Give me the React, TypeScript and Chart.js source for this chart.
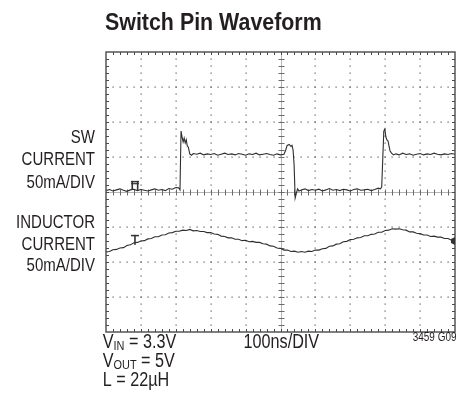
import React, { useEffect, useRef } from "react";
import { Chart, registerables } from "chart.js";
Chart.register(...registerables);

// ---- text ----
const TITLE = "Switch Pin Waveform";
const swLabel = ["SW", "CURRENT", "50mA/DIV"];
const indLabel = ["INDUCTOR", "CURRENT", "50mA/DIV"];
const timebase = "100ns/DIV";
const figId = "3459 G09";
const conditionMain = ["V", "V", "L"];
const conditionSub = ["IN", "OUT", ""];
const conditionRest = [" = 3.3V", " = 5V", " = 22µH"];

// ---- graticule (divisions) ----
const xDivs = 10;
const yDivs = 8;
const minorPerDiv = 5;

// ---- SW current trace (time in divisions, value in divisions) ----
const swTime = [
  0.0, 0.1, 0.2, 0.3, 0.4, 0.5, 0.6, 0.7, 0.8, 0.9, 1.0, 1.1, 1.2, 1.3, 1.4, 1.5, 1.6, 1.7, 1.8, 1.9, 2.0,
  2.08, 2.12, 2.15, 2.18, 2.21, 2.24, 2.27, 2.3, 2.33, 2.36, 2.4, 2.45, 2.5,
  2.6, 2.7, 2.8, 2.9, 3.0, 3.1, 3.2, 3.3, 3.4, 3.5, 3.6, 3.7, 3.8, 3.9, 4.0, 4.1, 4.2, 4.3, 4.4, 4.5, 4.6, 4.7, 4.8, 4.9, 5.0, 5.1,
  5.15, 5.19, 5.25, 5.3, 5.33, 5.36, 5.39, 5.42, 5.45, 5.49, 5.53,
  5.6, 5.7, 5.8, 5.9, 6.0, 6.1, 6.2, 6.3, 6.4, 6.5, 6.6, 6.7, 6.8, 6.9, 7.0, 7.1, 7.2, 7.3, 7.4, 7.5, 7.6, 7.7, 7.8,
  7.86, 7.9, 7.93, 7.96, 7.99, 8.02, 8.05, 8.08, 8.11, 8.14, 8.18, 8.24,
  8.3, 8.4, 8.5, 8.6, 8.7, 8.8, 8.9, 9.0, 9.1, 9.2, 9.3, 9.4, 9.5, 9.6, 9.7, 9.8, 9.9, 10.0,
];
const swCurrent = [
  4.04, 4.07, 4.03, 4.06, 4.09, 4.05, 4.02, 4.06, 4.08, 4.04, 4.07, 4.05, 4.03, 4.06, 4.09, 4.05, 4.07, 4.04, 4.1, 4.08, 4.13,
  4.12, 4.06, 5.74, 5.57, 5.43, 5.54, 5.4, 5.49, 5.31, 5.28, 5.09, 5.05, 5.1,
  5.08, 5.11, 5.06, 5.09, 5.07, 5.1, 5.05, 5.08, 5.11, 5.07, 5.09, 5.06, 5.1, 5.08, 5.05, 5.09, 5.07, 5.11, 5.06, 5.08, 5.1, 5.07, 5.05, 5.09, 5.06, 5.08,
  5.2, 5.33, 5.36, 5.3, 5.33, 5.2, 4.77, 3.83, 3.95, 4.09, 4.03,
  4.06, 4.09, 4.04, 4.07, 4.05, 4.08, 4.03, 4.06, 4.1, 4.05, 4.07, 4.04, 4.08, 4.06, 4.03, 4.07, 4.09, 4.05, 4.06, 4.08, 4.04, 4.07, 4.11,
  4.09, 4.14, 4.94, 5.74, 5.8, 5.57, 5.49, 5.46, 5.31, 5.17, 5.11, 5.06,
  5.09, 5.06, 5.11, 5.07, 5.09, 5.05, 5.08, 5.1, 5.06, 5.09, 5.07, 5.11, 5.08, 5.06, 5.09, 5.07, 5.1, 5.08,
];

// ---- inductor current trace ----
const indTime = [
  0.0, 0.1, 0.2, 0.3, 0.4, 0.5, 0.6, 0.7, 0.8, 0.9, 1.0, 1.1, 1.2, 1.3, 1.4, 1.5, 1.6, 1.7, 1.8, 1.9,
  2.0, 2.1, 2.2, 2.3, 2.4, 2.5, 2.6, 2.7, 2.8, 2.9, 3.0, 3.1, 3.2, 3.3, 3.4, 3.5, 3.6, 3.7, 3.8, 3.9,
  4.0, 4.1, 4.2, 4.3, 4.4, 4.5, 4.6, 4.7, 4.8, 4.9, 5.0, 5.1, 5.2, 5.3, 5.4, 5.5, 5.6, 5.7, 5.8, 5.9,
  6.0, 6.1, 6.2, 6.3, 6.4, 6.5, 6.6, 6.7, 6.8, 6.9, 7.0, 7.1, 7.2, 7.3, 7.4, 7.5, 7.6, 7.7, 7.8, 7.9,
  8.0, 8.1, 8.2, 8.3, 8.4, 8.5, 8.6, 8.7, 8.8, 8.9, 9.0, 9.1, 9.2, 9.3, 9.4, 9.5, 9.6, 9.7, 9.8, 9.9, 10.0,
];
const indCurrent = [
  2.29, 2.3, 2.35, 2.36, 2.4, 2.41, 2.47, 2.49, 2.55, 2.56, 2.6, 2.61, 2.66, 2.67, 2.72, 2.72, 2.77, 2.78, 2.83, 2.84,
  2.88, 2.88, 2.91, 2.9, 2.93, 2.89, 2.9, 2.87, 2.87, 2.84, 2.84, 2.8, 2.79, 2.74, 2.73, 2.69, 2.69, 2.65, 2.65, 2.61,
  2.62, 2.58, 2.59, 2.56, 2.56, 2.52, 2.51, 2.46, 2.45, 2.4, 2.39, 2.34, 2.34, 2.3, 2.31, 2.28, 2.3, 2.28, 2.31, 2.3,
  2.34, 2.34, 2.38, 2.39, 2.45, 2.46, 2.51, 2.52, 2.58, 2.59, 2.64, 2.65, 2.69, 2.7, 2.75, 2.75, 2.79, 2.8, 2.85, 2.85,
  2.9, 2.91, 2.95, 2.94, 2.95, 2.92, 2.91, 2.86, 2.86, 2.82, 2.81, 2.77, 2.77, 2.73, 2.74, 2.71, 2.71, 2.67, 2.67, 2.62, 2.6,
];

// ---- trace markers (divisions) ----
const ch1Marker = [0.83, 4.06];
const ch2Marker = [0.83, 2.49];
const refMarker = [10, 2.6];

const FONT = '"Liberation Sans", Arial, Helvetica, sans-serif';
const TEXT_COLOR = "#231f20";

function drawText(
  ctx: CanvasRenderingContext2D,
  s: string,
  x: number,
  y: number,
  size: number,
  sx: number,
  align: "left" | "right" | "center" = "left",
  bold = false
): number {
  ctx.save();
  ctx.font = `${bold ? "bold " : ""}${size}px ${FONT}`;
  ctx.textBaseline = "alphabetic";
  ctx.textAlign = "left";
  ctx.fillStyle = TEXT_COLOR;
  const w = ctx.measureText(s).width * sx;
  const x0 = align === "right" ? x - w : align === "center" ? x - w / 2 : x;
  ctx.translate(x0, y);
  ctx.scale(sx, 1);
  ctx.fillText(s, 0, 0);
  ctx.restore();
  return w;
}

const scopePlugin = {
  id: "scope",
  beforeDatasetsDraw(chart: any) {
    const { ctx, scales } = chart;
    const x = scales.x;
    const y = scales.y;
    ctx.save();
    // dotted graticule
    ctx.fillStyle = "#5a5a5a";
    for (let i = 1; i < xDivs; i++) {
      if (i === xDivs / 2) continue;
      const px = Math.round(x.getPixelForValue(i)) - 0.5;
      for (let j = 1; j < yDivs * minorPerDiv; j++) {
        const py = Math.round(y.getPixelForValue(j / minorPerDiv)) - 0.5;
        ctx.fillRect(px, py, 1.2, 1.2);
      }
    }
    for (let i = 1; i < yDivs; i++) {
      if (i === yDivs / 2) continue;
      const py = Math.round(y.getPixelForValue(i)) - 0.5;
      for (let j = 1; j < xDivs * minorPerDiv; j++) {
        const px = Math.round(x.getPixelForValue(j / minorPerDiv)) - 0.5;
        ctx.fillRect(px, py, 1.2, 1.2);
      }
    }
    // center lines
    const cx = Math.round(x.getPixelForValue(xDivs / 2)) + 0.5;
    const cy = Math.round(y.getPixelForValue(yDivs / 2)) + 0.5;
    ctx.strokeStyle = "#b4b4b4";
    ctx.lineWidth = 1;
    ctx.beginPath();
    ctx.moveTo(cx, y.getPixelForValue(0));
    ctx.lineTo(cx, y.getPixelForValue(yDivs));
    ctx.moveTo(x.getPixelForValue(0), cy);
    ctx.lineTo(x.getPixelForValue(xDivs), cy);
    ctx.stroke();
    ctx.strokeStyle = "#6a6a6a";
    ctx.beginPath();
    for (let j = 1; j < yDivs * minorPerDiv; j++) {
      const py = Math.round(y.getPixelForValue(j / minorPerDiv)) + 0.5;
      ctx.moveTo(cx - 3, py);
      ctx.lineTo(cx + 3, py);
    }
    for (let j = 1; j < xDivs * minorPerDiv; j++) {
      const px = Math.round(x.getPixelForValue(j / minorPerDiv)) + 0.5;
      ctx.moveTo(px, cy - 3);
      ctx.lineTo(px, cy + 3);
    }
    ctx.stroke();
    ctx.restore();
  },
  afterDatasetsDraw(chart: any) {
    const { ctx, scales } = chart;
    const x = scales.x;
    const y = scales.y;
    const L = x.getPixelForValue(0);
    const R = x.getPixelForValue(xDivs);
    const T = y.getPixelForValue(yDivs);
    const B = y.getPixelForValue(0);
    ctx.save();
    // frame
    ctx.strokeStyle = "#4a4a4a";
    ctx.lineWidth = 1.4;
    ctx.strokeRect(L, T, R - L, B - T);
    ctx.lineWidth = 1;
    ctx.beginPath();
    for (let j = 1; j < xDivs * minorPerDiv; j++) {
      const px = Math.round(x.getPixelForValue(j / minorPerDiv)) + 0.5;
      ctx.moveTo(px, T);
      ctx.lineTo(px, T + 3);
      ctx.moveTo(px, B);
      ctx.lineTo(px, B - 3);
    }
    for (let j = 1; j < yDivs * minorPerDiv; j++) {
      const py = Math.round(y.getPixelForValue(j / minorPerDiv)) + 0.5;
      ctx.moveTo(L, py);
      ctx.lineTo(L + 3, py);
      ctx.moveTo(R, py);
      ctx.lineTo(R - 3, py);
    }
    ctx.stroke();

    // channel 1 marker
    ctx.fillStyle = "#333";
    {
      const mx = x.getPixelForValue(ch1Marker[0]);
      const my = y.getPixelForValue(ch1Marker[1]);
      ctx.fillRect(mx - 4, my - 9, 8, 1.5);
      ctx.fillRect(mx - 4, my - 6.8, 8, 1.2);
      ctx.fillRect(mx - 3.5, my - 9, 1.6, 9);
      ctx.fillRect(mx + 1.9, my - 9, 1.6, 9);
    }
    // channel 2 marker
    {
      const mx = x.getPixelForValue(ch2Marker[0]);
      const my = y.getPixelForValue(ch2Marker[1]);
      ctx.fillRect(mx - 4, my - 10, 8, 1.5);
      ctx.fillRect(mx - 0.8, my - 10, 1.6, 10);
    }
    // reference marker
    {
      const mx = x.getPixelForValue(refMarker[0]);
      const my = y.getPixelForValue(refMarker[1]);
      ctx.beginPath();
      ctx.moveTo(mx, my - 4);
      ctx.lineTo(mx, my + 4);
      ctx.lineTo(mx - 4, my + 2);
      ctx.lineTo(mx - 4, my - 2);
      ctx.closePath();
      ctx.fill();
    }
    ctx.restore();

    // ---- text ----
    drawText(ctx, TITLE, 105, 30, 23, 0.93, "left", true);
    const lx = 95;
    swLabel.forEach((s, i) => drawText(ctx, s, lx, [143, 165, 188][i], 19, 0.79, "right"));
    indLabel.forEach((s, i) => drawText(ctx, s, lx, [228, 249.5, 271][i], 19, 0.79, "right"));
    drawText(ctx, timebase, 243.5, 347.5, 20, 0.81, "left");
    drawText(ctx, figId, 456.5, 340.5, 12, 0.83, "right");
    const baselines = [347.5, 366.5, 385.5];
    conditionMain.forEach((m, i) => {
      let cx = 102.7;
      const by = baselines[i];
      cx += drawText(ctx, m, cx, by, 20, 0.81, "left");
      if (conditionSub[i]) cx += drawText(ctx, conditionSub[i], cx, by + 2.5, 13.5, 0.81, "left");
      drawText(ctx, conditionRest[i], cx, by, 20, 0.81, "left");
    });
  },
};

export default function App() {
  const canvasRef = useRef<HTMLCanvasElement | null>(null);

  useEffect(() => {
    const canvas = canvasRef.current;
    if (!canvas) return;
    const chart = new Chart(canvas, {
      type: "line",
      data: {
        datasets: [
          {
            label: "SW CURRENT",
            data: swTime.map((t, i) => ({ x: t, y: swCurrent[i] })),
            borderColor: "#2e2e2e",
            borderWidth: 1.1,
            pointRadius: 0,
            tension: 0,
            fill: false,
          },
          {
            label: "INDUCTOR CURRENT",
            data: indTime.map((t, i) => ({ x: t, y: indCurrent[i] })),
            borderColor: "#2e2e2e",
            borderWidth: 1.1,
            pointRadius: 0,
            tension: 0,
            fill: false,
          },
        ],
      },
      options: {
        responsive: false,
        animation: false,
        devicePixelRatio: 1,
        events: [],
        layout: { padding: { left: 106, top: 52, right: 14, bottom: 70 } },
        plugins: { legend: { display: false }, tooltip: { enabled: false }, title: { display: false } },
        scales: {
          x: { type: "linear", min: 0, max: xDivs, display: false },
          y: { type: "linear", min: 0, max: yDivs, display: false },
        },
      },
      plugins: [scopePlugin],
    });
    return () => chart.destroy();
  }, []);

  return (
    <div style={{ position: "absolute", left: 0, top: 0, width: 469, height: 402, background: "#fff" }}>
      <canvas ref={canvasRef} width={469} height={402} style={{ display: "block" }} />
    </div>
  );
}
